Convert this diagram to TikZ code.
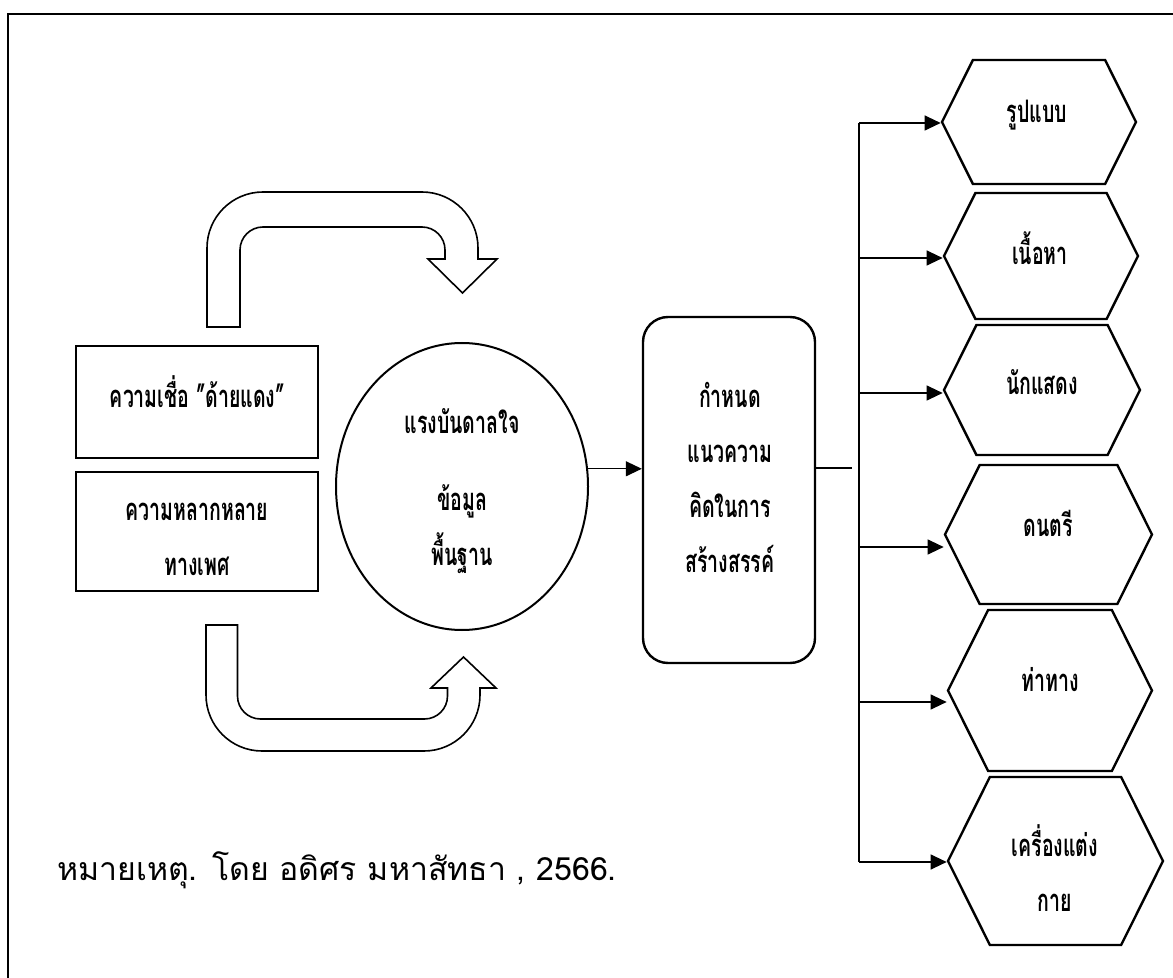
\documentclass[tikz,border=0pt]{standalone}
\usepackage{fontspec}
\newfontfamily\thaifont[Script=Thai]{Loma}
\newfontfamily\thaibold[Script=Thai,FakeStretch=0.63]{Loma}
\usetikzlibrary{arrows.meta,shapes.geometric,shapes.symbols}
\begin{document}
\begin{tikzpicture}[x=0.5pt,y=-0.5pt,
    flow/.style={line width=0.6pt,-{Triangle[length=8pt,width=7.5pt]}},
    link/.style={line width=0.6pt},
    bigarrow/.style={line width=0.8pt}]
  \clip (0,0) rectangle (1173,978);
  \draw[line width=1pt] (8,14) rectangle (1200,1000);
  % boxes, ellipse and concept box
  \begin{scope}[every node/.style={draw,line width=1.2pt,inner sep=0pt}]
    \node[rectangle,minimum width=121pt,minimum height=56pt] (belief) at (197,402) {};
    \node[rectangle,minimum width=121pt,minimum height=59.5pt] (gender) at (197,531.5) {};
    \node[ellipse,line width=1pt,minimum width=126pt,minimum height=143.5pt] (insp) at (462,486.5) {};
    \node[rectangle,rounded corners=12.5pt,minimum width=86pt,minimum height=173pt] (concept) at (729,490) {};
  \end{scope}
  % hexagons
  \begin{scope}[every node/.style={draw,line width=1.2pt,inner sep=0pt,signal,
      signal to=west and east,signal pointer angle=127}]
    \node[minimum width=97pt,minimum height=62pt] (h1) at (1039,122) {};
    \node[minimum width=97pt,minimum height=63pt] (h2) at (1041,256) {};
    \node[minimum width=98pt,minimum height=65pt] (h3) at (1042,390) {};
    \node[minimum width=103.5pt,minimum height=69.5pt] (h4) at (1048.5,534.5) {};
    \node[minimum width=102pt,minimum height=80.5pt] (h5) at (1050,690.5) {};
    \node[minimum width=107.5pt,minimum height=84pt] (h6) at (1055.5,861) {};
  \end{scope}
  % labels
  \begin{scope}[every node/.style={font=\thaibold\bfseries\fontsize{15.5}{27.5}\selectfont,align=center}]
    \node (tbelief) at (197.5,392) {ความเชื่อ ”ด้ายแดง”};
    \node (tgender) at (197,539.5) {ความหลากหลาย\\ทางเพศ};
    \node (tinsp) at (462,491) {แรงบันดาลใจ\\[11pt]ข้อมูล\\พื้นฐาน};
    \node (tconcept) at (730,477.5) {กำหนด\\แนวความ\\คิดในการ\\สร้างสรรค์};
    \node (t1) at (1037,115) {รูปแบบ};
    \node (t2) at (1040,248) {เนื้อหา};
    \node (t3) at (1042,382) {นักแสดง};
    \node (t4) at (1048,523) {ดนตรี};
    \node (t5) at (1050,680) {ท่าทาง};
    \node (t6) at (1055,868.5) {เครื่องแต่ง\\กาย};
  \end{scope}
  \node[font=\thaifont\fontsize{16}{19}\selectfont] (note) at (337,870) {หมายเหตุ. โดย อดิศร มหาสัทธา , 2566.};
  % block arrows
  \draw[bigarrow] (207,327) [rounded corners=28pt] -- (207,192) -- (478,192)
    [sharp corners] -- (478,259) -- (497,259) -- (462.5,293) -- (428,259) -- (445,259)
    [rounded corners=11.5pt] -- (445,227) -- (240,227) [sharp corners] -- (240,327) -- cycle;
  \draw[bigarrow] (206,625) [rounded corners=28pt] -- (206,751) -- (480,751)
    [sharp corners] -- (480,688) -- (496,688) -- (463.5,657) -- (431,688) -- (447.5,688)
    [rounded corners=11.5pt] -- (447.5,719) -- (237.5,719) [sharp corners] -- (237.5,625) -- cycle;
  % connectors
  \draw[flow] (insp.8) -- (insp.8 -| concept.west);
  \coordinate (busin) at (852,468);
  \draw[link] (concept.east |- busin) -- (busin);
  \foreach \n/\y in {1/123,2/258,3/393,4/547,5/702,6/862}
    \coordinate (b\n) at (859,\y);
  \draw[link] (b1) -- (b6);
  \foreach \n in {1,...,6}
    \draw[flow] (b\n) -- (b\n -| h\n.west);
\end{tikzpicture}
\end{document}
